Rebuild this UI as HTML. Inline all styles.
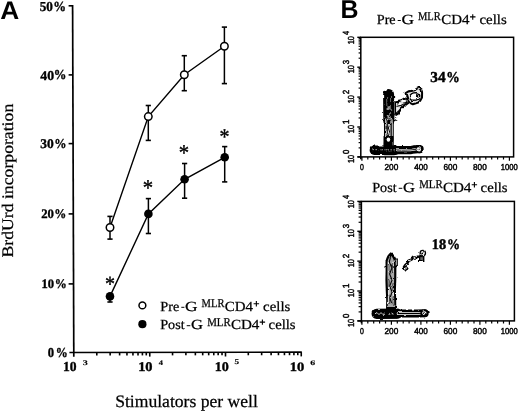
<!DOCTYPE html>
<html><head><meta charset="utf-8">
<style>
html,body{margin:0;padding:0;background:#fff;width:520px;height:412px;overflow:hidden}
svg{display:block;will-change:transform;text-rendering:geometricPrecision}
</style></head><body>
<svg width="520" height="412" viewBox="0 0 520 412">
<text x="0.24" y="19.10" font-family="Liberation Sans" font-weight="bold" font-size="25.51" textLength="18.97" lengthAdjust="spacingAndGlyphs">A</text>
<text x="340.38" y="17.70" font-family="Liberation Sans" font-weight="bold" font-size="25.65" textLength="18.00" lengthAdjust="spacingAndGlyphs">B</text>
<line x1="72.60" y1="5.00" x2="73.80" y2="356.80" stroke="#000" stroke-width="1.7"/>
<line x1="68.60" y1="5.80" x2="72.60" y2="5.80" stroke="#000" stroke-width="1.6"/>
<line x1="68.60" y1="74.90" x2="72.84" y2="74.90" stroke="#000" stroke-width="1.6"/>
<line x1="68.60" y1="143.60" x2="73.07" y2="143.60" stroke="#000" stroke-width="1.6"/>
<line x1="68.60" y1="213.90" x2="73.31" y2="213.90" stroke="#000" stroke-width="1.6"/>
<line x1="68.60" y1="283.90" x2="73.55" y2="283.90" stroke="#000" stroke-width="1.6"/>
<line x1="69.40" y1="352.50" x2="301.80" y2="352.20" stroke="#000" stroke-width="1.7"/>
<line x1="96.80" y1="352.46" x2="96.80" y2="355.46" stroke="#000" stroke-width="1.6"/>
<line x1="110.14" y1="352.45" x2="110.14" y2="355.45" stroke="#000" stroke-width="1.6"/>
<line x1="119.61" y1="352.44" x2="119.61" y2="355.44" stroke="#000" stroke-width="1.6"/>
<line x1="126.95" y1="352.43" x2="126.95" y2="355.43" stroke="#000" stroke-width="1.6"/>
<line x1="132.94" y1="352.42" x2="132.94" y2="355.42" stroke="#000" stroke-width="1.6"/>
<line x1="138.02" y1="352.41" x2="138.02" y2="355.41" stroke="#000" stroke-width="1.6"/>
<line x1="142.41" y1="352.41" x2="142.41" y2="355.41" stroke="#000" stroke-width="1.6"/>
<line x1="146.28" y1="352.40" x2="146.28" y2="355.40" stroke="#000" stroke-width="1.6"/>
<line x1="172.55" y1="352.37" x2="172.55" y2="355.37" stroke="#000" stroke-width="1.6"/>
<line x1="185.89" y1="352.35" x2="185.89" y2="355.35" stroke="#000" stroke-width="1.6"/>
<line x1="195.36" y1="352.34" x2="195.36" y2="355.34" stroke="#000" stroke-width="1.6"/>
<line x1="202.70" y1="352.33" x2="202.70" y2="355.33" stroke="#000" stroke-width="1.6"/>
<line x1="208.69" y1="352.32" x2="208.69" y2="355.32" stroke="#000" stroke-width="1.6"/>
<line x1="213.77" y1="352.31" x2="213.77" y2="355.31" stroke="#000" stroke-width="1.6"/>
<line x1="218.16" y1="352.31" x2="218.16" y2="355.31" stroke="#000" stroke-width="1.6"/>
<line x1="222.03" y1="352.30" x2="222.03" y2="355.30" stroke="#000" stroke-width="1.6"/>
<line x1="248.30" y1="352.27" x2="248.30" y2="355.27" stroke="#000" stroke-width="1.6"/>
<line x1="261.64" y1="352.25" x2="261.64" y2="355.25" stroke="#000" stroke-width="1.6"/>
<line x1="271.11" y1="352.24" x2="271.11" y2="355.24" stroke="#000" stroke-width="1.6"/>
<line x1="278.45" y1="352.23" x2="278.45" y2="355.23" stroke="#000" stroke-width="1.6"/>
<line x1="284.44" y1="352.22" x2="284.44" y2="355.22" stroke="#000" stroke-width="1.6"/>
<line x1="289.52" y1="352.22" x2="289.52" y2="355.22" stroke="#000" stroke-width="1.6"/>
<line x1="293.91" y1="352.21" x2="293.91" y2="355.21" stroke="#000" stroke-width="1.6"/>
<line x1="297.78" y1="352.21" x2="297.78" y2="355.21" stroke="#000" stroke-width="1.6"/>
<line x1="149.75" y1="352.40" x2="149.75" y2="356.60" stroke="#000" stroke-width="1.6"/>
<line x1="225.50" y1="352.30" x2="225.50" y2="356.50" stroke="#000" stroke-width="1.6"/>
<line x1="301.25" y1="352.20" x2="301.25" y2="356.40" stroke="#000" stroke-width="1.6"/>
<g fill="#000" stroke="#000" stroke-width="0.35">
<text x="39.67" y="10.66" font-family="Liberation Serif" font-weight="bold" font-size="13.63" textLength="13.15" lengthAdjust="spacingAndGlyphs">50</text>
<text x="53.26" y="10.59" font-family="Liberation Serif" font-weight="bold" font-size="13.97" textLength="12.75" lengthAdjust="spacingAndGlyphs">%</text>
<text x="40.39" y="79.57" font-family="Liberation Serif" font-weight="bold" font-size="13.48" textLength="13.76" lengthAdjust="spacingAndGlyphs">40</text>
<text x="53.67" y="79.49" font-family="Liberation Serif" font-weight="bold" font-size="13.82" textLength="12.62" lengthAdjust="spacingAndGlyphs">%</text>
<text x="40.36" y="148.37" font-family="Liberation Serif" font-weight="bold" font-size="13.19" textLength="13.48" lengthAdjust="spacingAndGlyphs">30</text>
<text x="54.31" y="148.30" font-family="Liberation Serif" font-weight="bold" font-size="13.53" textLength="12.25" lengthAdjust="spacingAndGlyphs">%</text>
<text x="41.19" y="218.47" font-family="Liberation Serif" font-weight="bold" font-size="12.89" textLength="12.72" lengthAdjust="spacingAndGlyphs">20</text>
<text x="54.24" y="218.40" font-family="Liberation Serif" font-weight="bold" font-size="13.24" textLength="12.00" lengthAdjust="spacingAndGlyphs">%</text>
<text x="41.49" y="288.17" font-family="Liberation Serif" font-weight="bold" font-size="12.89" textLength="12.61" lengthAdjust="spacingAndGlyphs">10</text>
<text x="54.74" y="288.10" font-family="Liberation Serif" font-weight="bold" font-size="13.24" textLength="12.00" lengthAdjust="spacingAndGlyphs">%</text>
<text x="47.80" y="357.47" font-family="Liberation Serif" font-weight="bold" font-size="13.48" textLength="6.31" lengthAdjust="spacingAndGlyphs">0</text>
<text x="55.64" y="357.39" font-family="Liberation Serif" font-weight="bold" font-size="13.82" textLength="12.00" lengthAdjust="spacingAndGlyphs">%</text>
<text x="62.96" y="371.26" font-family="Liberation Serif" font-weight="bold" font-size="13.63" textLength="13.58" lengthAdjust="spacingAndGlyphs">10</text>
<text x="82.80" y="364.73" font-family="Liberation Serif" font-weight="bold" font-size="7.16" textLength="5.06" lengthAdjust="spacingAndGlyphs" stroke-width="0.15">3</text>
<text x="138.15" y="370.77" font-family="Liberation Serif" font-weight="bold" font-size="13.19" textLength="14.43" lengthAdjust="spacingAndGlyphs">10</text>
<text x="158.77" y="364.50" font-family="Liberation Serif" font-weight="bold" font-size="6.97" textLength="4.19" lengthAdjust="spacingAndGlyphs" stroke-width="0.15">4</text>
<text x="214.77" y="370.77" font-family="Liberation Serif" font-weight="bold" font-size="13.19" textLength="14.09" lengthAdjust="spacingAndGlyphs">10</text>
<text x="234.53" y="364.43" font-family="Liberation Serif" font-weight="bold" font-size="7.37" textLength="4.59" lengthAdjust="spacingAndGlyphs" stroke-width="0.15">5</text>
<text x="289.74" y="370.57" font-family="Liberation Serif" font-weight="bold" font-size="12.89" textLength="14.55" lengthAdjust="spacingAndGlyphs">10</text>
<text x="310.15" y="364.73" font-family="Liberation Serif" font-weight="bold" font-size="6.87" textLength="4.94" lengthAdjust="spacingAndGlyphs" stroke-width="0.15">6</text>
</g>
<text x="115.16" y="406.94" font-family="Liberation Serif" font-size="17.47" textLength="142.69" lengthAdjust="spacingAndGlyphs" stroke="#000" stroke-width="0.25">Stimulators per well</text>
<g transform="rotate(-90)" fill="#000"><text x="-257.53" y="13.03" font-family="Liberation Serif" font-size="16.15" textLength="153.75" lengthAdjust="spacingAndGlyphs" stroke="#000" stroke-width="0.25">BrdUrd incorporation</text></g>
<polyline points="110,227.5 148.3,116.6 184.3,74.7 224.4,46.3" fill="none" stroke="#000" stroke-width="1.4"/>
<polyline points="110,296.4 148.4,213.9 184.6,179.3 224.7,157.3" fill="none" stroke="#000" stroke-width="1.4"/>
<line x1="110.00" y1="216.40" x2="110.00" y2="239.10" stroke="#000" stroke-width="1.5"/>
<line x1="107.40" y1="216.40" x2="112.60" y2="216.40" stroke="#000" stroke-width="1.6"/>
<line x1="107.40" y1="239.10" x2="112.60" y2="239.10" stroke="#000" stroke-width="1.6"/>
<line x1="148.30" y1="105.50" x2="148.30" y2="140.40" stroke="#000" stroke-width="1.5"/>
<line x1="145.70" y1="105.50" x2="150.90" y2="105.50" stroke="#000" stroke-width="1.6"/>
<line x1="145.70" y1="140.40" x2="150.90" y2="140.40" stroke="#000" stroke-width="1.6"/>
<line x1="184.30" y1="55.70" x2="184.30" y2="90.70" stroke="#000" stroke-width="1.5"/>
<line x1="181.70" y1="55.70" x2="186.90" y2="55.70" stroke="#000" stroke-width="1.6"/>
<line x1="181.70" y1="90.70" x2="186.90" y2="90.70" stroke="#000" stroke-width="1.6"/>
<line x1="224.40" y1="27.10" x2="224.40" y2="83.60" stroke="#000" stroke-width="1.5"/>
<line x1="221.80" y1="27.10" x2="227.00" y2="27.10" stroke="#000" stroke-width="1.6"/>
<line x1="221.80" y1="83.60" x2="227.00" y2="83.60" stroke="#000" stroke-width="1.6"/>
<line x1="110.00" y1="296.40" x2="110.00" y2="302.00" stroke="#000" stroke-width="1.5"/>
<line x1="107.40" y1="302.00" x2="112.60" y2="302.00" stroke="#000" stroke-width="1.6"/>
<line x1="148.40" y1="198.60" x2="148.40" y2="233.50" stroke="#000" stroke-width="1.5"/>
<line x1="145.80" y1="198.60" x2="151.00" y2="198.60" stroke="#000" stroke-width="1.6"/>
<line x1="145.80" y1="233.50" x2="151.00" y2="233.50" stroke="#000" stroke-width="1.6"/>
<line x1="184.60" y1="163.50" x2="184.60" y2="198.20" stroke="#000" stroke-width="1.5"/>
<line x1="182.00" y1="163.50" x2="187.20" y2="163.50" stroke="#000" stroke-width="1.6"/>
<line x1="182.00" y1="198.20" x2="187.20" y2="198.20" stroke="#000" stroke-width="1.6"/>
<line x1="224.70" y1="146.60" x2="224.70" y2="181.90" stroke="#000" stroke-width="1.5"/>
<line x1="222.10" y1="146.60" x2="227.30" y2="146.60" stroke="#000" stroke-width="1.6"/>
<line x1="222.10" y1="181.90" x2="227.30" y2="181.90" stroke="#000" stroke-width="1.6"/>
<circle cx="110" cy="227.5" r="3.75" fill="#fff" stroke="#000" stroke-width="1.5"/>
<circle cx="148.3" cy="116.6" r="3.75" fill="#fff" stroke="#000" stroke-width="1.5"/>
<circle cx="184.3" cy="74.7" r="3.75" fill="#fff" stroke="#000" stroke-width="1.5"/>
<circle cx="224.4" cy="46.3" r="3.75" fill="#fff" stroke="#000" stroke-width="1.5"/>
<circle cx="110" cy="296.4" r="4.3" fill="#000"/>
<circle cx="148.4" cy="213.9" r="4.3" fill="#000"/>
<circle cx="184.6" cy="179.3" r="4.3" fill="#000"/>
<circle cx="224.7" cy="157.3" r="4.3" fill="#000"/>
<g fill="#000" stroke="#000" stroke-width="0.4">
<text x="105.10" y="290.66" font-family="Liberation Serif" font-size="21.92" textLength="10.00" lengthAdjust="spacingAndGlyphs">*</text>
<text x="142.76" y="194.82" font-family="Liberation Serif" font-size="22.47" textLength="10.37" lengthAdjust="spacingAndGlyphs">*</text>
<text x="178.76" y="159.82" font-family="Liberation Serif" font-size="22.47" textLength="10.37" lengthAdjust="spacingAndGlyphs">*</text>
<text x="219.60" y="143.62" font-family="Liberation Serif" font-size="22.47" textLength="10.00" lengthAdjust="spacingAndGlyphs">*</text>
</g>
<circle cx="142.4" cy="305.4" r="3.4" fill="#fff" stroke="#000" stroke-width="1.5"/>
<circle cx="142.4" cy="324.2" r="4.1" fill="#000"/>
<g fill="#000">
<text x="160.37" y="311.00" font-family="Liberation Serif" font-size="13.80" textLength="18.89" lengthAdjust="spacingAndGlyphs" stroke="#000" stroke-width="0.25">Pre</text>
<path d="M181.30,307.30H184.40" stroke="#000" stroke-width="1.0"/>
<text x="185.10" y="310.86" font-family="Liberation Serif" font-size="13.88" textLength="12.55" lengthAdjust="spacingAndGlyphs" stroke="#000" stroke-width="0.25">G</text>
<text x="201.58" y="307.20" font-family="Liberation Serif" font-size="11.91" textLength="22.84" lengthAdjust="spacingAndGlyphs" stroke="#000" stroke-width="0.25">MLR</text>
<text x="224.80" y="310.86" font-family="Liberation Serif" font-size="13.88" textLength="28.21" lengthAdjust="spacingAndGlyphs" stroke="#000" stroke-width="0.25">CD4</text>
<path d="M253.60,303.70H259.10M256.35,300.95V306.45" stroke="#000" stroke-width="1.1"/>
<text x="263.11" y="311.00" font-family="Liberation Serif" font-size="13.80" textLength="27.17" lengthAdjust="spacingAndGlyphs" stroke="#000" stroke-width="0.25">cells</text>
<text x="160.28" y="329.40" font-family="Liberation Serif" font-size="13.80" textLength="24.34" lengthAdjust="spacingAndGlyphs" stroke="#000" stroke-width="0.25">Post</text>
<path d="M186.70,325.70H190.30" stroke="#000" stroke-width="1.0"/>
<text x="190.94" y="329.26" font-family="Liberation Serif" font-size="13.88" textLength="12.00" lengthAdjust="spacingAndGlyphs" stroke="#000" stroke-width="0.25">G</text>
<text x="207.17" y="325.60" font-family="Liberation Serif" font-size="11.91" textLength="23.55" lengthAdjust="spacingAndGlyphs" stroke="#000" stroke-width="0.25">MLR</text>
<text x="230.90" y="329.26" font-family="Liberation Serif" font-size="13.88" textLength="28.52" lengthAdjust="spacingAndGlyphs" stroke="#000" stroke-width="0.25">CD4</text>
<path d="M259.70,322.10H265.10M262.40,319.40V324.80" stroke="#000" stroke-width="1.1"/>
<text x="268.61" y="329.40" font-family="Liberation Serif" font-size="13.80" textLength="26.97" lengthAdjust="spacingAndGlyphs" stroke="#000" stroke-width="0.25">cells</text>
<text x="376.77" y="24.20" font-family="Liberation Serif" font-size="13.80" textLength="18.89" lengthAdjust="spacingAndGlyphs" stroke="#000" stroke-width="0.25">Pre</text>
<path d="M397.70,20.50H400.80" stroke="#000" stroke-width="1.0"/>
<text x="401.50" y="24.06" font-family="Liberation Serif" font-size="13.88" textLength="12.55" lengthAdjust="spacingAndGlyphs" stroke="#000" stroke-width="0.25">G</text>
<text x="417.98" y="20.40" font-family="Liberation Serif" font-size="11.91" textLength="22.84" lengthAdjust="spacingAndGlyphs" stroke="#000" stroke-width="0.25">MLR</text>
<text x="441.20" y="24.06" font-family="Liberation Serif" font-size="13.88" textLength="28.21" lengthAdjust="spacingAndGlyphs" stroke="#000" stroke-width="0.25">CD4</text>
<path d="M470.00,16.90H475.50M472.75,14.15V19.65" stroke="#000" stroke-width="1.1"/>
<text x="479.51" y="24.20" font-family="Liberation Serif" font-size="13.80" textLength="27.17" lengthAdjust="spacingAndGlyphs" stroke="#000" stroke-width="0.25">cells</text>
<text x="372.28" y="192.00" font-family="Liberation Serif" font-size="13.80" textLength="24.34" lengthAdjust="spacingAndGlyphs" stroke="#000" stroke-width="0.25">Post</text>
<path d="M398.70,188.30H402.30" stroke="#000" stroke-width="1.0"/>
<text x="402.94" y="191.86" font-family="Liberation Serif" font-size="13.88" textLength="12.00" lengthAdjust="spacingAndGlyphs" stroke="#000" stroke-width="0.25">G</text>
<text x="419.17" y="188.20" font-family="Liberation Serif" font-size="11.91" textLength="23.55" lengthAdjust="spacingAndGlyphs" stroke="#000" stroke-width="0.25">MLR</text>
<text x="442.90" y="191.86" font-family="Liberation Serif" font-size="13.88" textLength="28.52" lengthAdjust="spacingAndGlyphs" stroke="#000" stroke-width="0.25">CD4</text>
<path d="M471.70,184.70H477.10M474.40,182.00V187.40" stroke="#000" stroke-width="1.1"/>
<text x="480.61" y="192.00" font-family="Liberation Serif" font-size="13.80" textLength="26.97" lengthAdjust="spacingAndGlyphs" stroke="#000" stroke-width="0.25">cells</text>
</g>
<rect x="360.8" y="37.3" width="152.8" height="119.60000000000001" fill="none" stroke="#000" stroke-width="1.5"/>
<line x1="357.30" y1="156.90" x2="360.80" y2="156.90" stroke="#000" stroke-width="1.4"/>
<line x1="358.60" y1="147.90" x2="360.80" y2="147.90" stroke="#000" stroke-width="1.2"/>
<line x1="358.60" y1="142.63" x2="360.80" y2="142.63" stroke="#000" stroke-width="1.2"/>
<line x1="358.60" y1="138.90" x2="360.80" y2="138.90" stroke="#000" stroke-width="1.2"/>
<line x1="358.60" y1="136.00" x2="360.80" y2="136.00" stroke="#000" stroke-width="1.2"/>
<line x1="358.60" y1="133.63" x2="360.80" y2="133.63" stroke="#000" stroke-width="1.2"/>
<line x1="358.60" y1="131.63" x2="360.80" y2="131.63" stroke="#000" stroke-width="1.2"/>
<line x1="358.60" y1="129.90" x2="360.80" y2="129.90" stroke="#000" stroke-width="1.2"/>
<line x1="358.60" y1="128.37" x2="360.80" y2="128.37" stroke="#000" stroke-width="1.2"/>
<line x1="357.30" y1="127.00" x2="360.80" y2="127.00" stroke="#000" stroke-width="1.4"/>
<line x1="358.60" y1="118.00" x2="360.80" y2="118.00" stroke="#000" stroke-width="1.2"/>
<line x1="358.60" y1="112.73" x2="360.80" y2="112.73" stroke="#000" stroke-width="1.2"/>
<line x1="358.60" y1="109.00" x2="360.80" y2="109.00" stroke="#000" stroke-width="1.2"/>
<line x1="358.60" y1="106.10" x2="360.80" y2="106.10" stroke="#000" stroke-width="1.2"/>
<line x1="358.60" y1="103.73" x2="360.80" y2="103.73" stroke="#000" stroke-width="1.2"/>
<line x1="358.60" y1="101.73" x2="360.80" y2="101.73" stroke="#000" stroke-width="1.2"/>
<line x1="358.60" y1="100.00" x2="360.80" y2="100.00" stroke="#000" stroke-width="1.2"/>
<line x1="358.60" y1="98.47" x2="360.80" y2="98.47" stroke="#000" stroke-width="1.2"/>
<line x1="357.30" y1="97.10" x2="360.80" y2="97.10" stroke="#000" stroke-width="1.4"/>
<line x1="358.60" y1="88.10" x2="360.80" y2="88.10" stroke="#000" stroke-width="1.2"/>
<line x1="358.60" y1="82.83" x2="360.80" y2="82.83" stroke="#000" stroke-width="1.2"/>
<line x1="358.60" y1="79.10" x2="360.80" y2="79.10" stroke="#000" stroke-width="1.2"/>
<line x1="358.60" y1="76.20" x2="360.80" y2="76.20" stroke="#000" stroke-width="1.2"/>
<line x1="358.60" y1="73.83" x2="360.80" y2="73.83" stroke="#000" stroke-width="1.2"/>
<line x1="358.60" y1="71.83" x2="360.80" y2="71.83" stroke="#000" stroke-width="1.2"/>
<line x1="358.60" y1="70.10" x2="360.80" y2="70.10" stroke="#000" stroke-width="1.2"/>
<line x1="358.60" y1="68.57" x2="360.80" y2="68.57" stroke="#000" stroke-width="1.2"/>
<line x1="357.30" y1="67.20" x2="360.80" y2="67.20" stroke="#000" stroke-width="1.4"/>
<line x1="358.60" y1="58.20" x2="360.80" y2="58.20" stroke="#000" stroke-width="1.2"/>
<line x1="358.60" y1="52.93" x2="360.80" y2="52.93" stroke="#000" stroke-width="1.2"/>
<line x1="358.60" y1="49.20" x2="360.80" y2="49.20" stroke="#000" stroke-width="1.2"/>
<line x1="358.60" y1="46.30" x2="360.80" y2="46.30" stroke="#000" stroke-width="1.2"/>
<line x1="358.60" y1="43.93" x2="360.80" y2="43.93" stroke="#000" stroke-width="1.2"/>
<line x1="358.60" y1="41.93" x2="360.80" y2="41.93" stroke="#000" stroke-width="1.2"/>
<line x1="358.60" y1="40.20" x2="360.80" y2="40.20" stroke="#000" stroke-width="1.2"/>
<line x1="358.60" y1="38.67" x2="360.80" y2="38.67" stroke="#000" stroke-width="1.2"/>
<line x1="357.30" y1="37.30" x2="360.80" y2="37.30" stroke="#000" stroke-width="1.4"/>
<line x1="357.50" y1="156.90" x2="360.80" y2="156.90" stroke="#000" stroke-width="1.5"/>
<line x1="361.90" y1="156.90" x2="361.90" y2="160.70" stroke="#000" stroke-width="1.2"/>
<line x1="367.80" y1="156.90" x2="367.80" y2="159.50" stroke="#000" stroke-width="1.2"/>
<line x1="373.70" y1="156.90" x2="373.70" y2="159.50" stroke="#000" stroke-width="1.2"/>
<line x1="379.60" y1="156.90" x2="379.60" y2="159.50" stroke="#000" stroke-width="1.2"/>
<line x1="385.50" y1="156.90" x2="385.50" y2="159.50" stroke="#000" stroke-width="1.2"/>
<line x1="391.40" y1="156.90" x2="391.40" y2="160.70" stroke="#000" stroke-width="1.2"/>
<line x1="397.30" y1="156.90" x2="397.30" y2="159.50" stroke="#000" stroke-width="1.2"/>
<line x1="403.20" y1="156.90" x2="403.20" y2="159.50" stroke="#000" stroke-width="1.2"/>
<line x1="409.10" y1="156.90" x2="409.10" y2="159.50" stroke="#000" stroke-width="1.2"/>
<line x1="415.00" y1="156.90" x2="415.00" y2="159.50" stroke="#000" stroke-width="1.2"/>
<line x1="420.90" y1="156.90" x2="420.90" y2="160.70" stroke="#000" stroke-width="1.2"/>
<line x1="426.80" y1="156.90" x2="426.80" y2="159.50" stroke="#000" stroke-width="1.2"/>
<line x1="432.70" y1="156.90" x2="432.70" y2="159.50" stroke="#000" stroke-width="1.2"/>
<line x1="438.60" y1="156.90" x2="438.60" y2="159.50" stroke="#000" stroke-width="1.2"/>
<line x1="444.50" y1="156.90" x2="444.50" y2="159.50" stroke="#000" stroke-width="1.2"/>
<line x1="450.40" y1="156.90" x2="450.40" y2="160.70" stroke="#000" stroke-width="1.2"/>
<line x1="456.30" y1="156.90" x2="456.30" y2="159.50" stroke="#000" stroke-width="1.2"/>
<line x1="462.20" y1="156.90" x2="462.20" y2="159.50" stroke="#000" stroke-width="1.2"/>
<line x1="468.10" y1="156.90" x2="468.10" y2="159.50" stroke="#000" stroke-width="1.2"/>
<line x1="474.00" y1="156.90" x2="474.00" y2="159.50" stroke="#000" stroke-width="1.2"/>
<line x1="479.90" y1="156.90" x2="479.90" y2="160.70" stroke="#000" stroke-width="1.2"/>
<line x1="485.80" y1="156.90" x2="485.80" y2="159.50" stroke="#000" stroke-width="1.2"/>
<line x1="491.70" y1="156.90" x2="491.70" y2="159.50" stroke="#000" stroke-width="1.2"/>
<line x1="497.60" y1="156.90" x2="497.60" y2="159.50" stroke="#000" stroke-width="1.2"/>
<line x1="503.50" y1="156.90" x2="503.50" y2="159.50" stroke="#000" stroke-width="1.2"/>
<line x1="509.40" y1="156.90" x2="509.40" y2="160.70" stroke="#000" stroke-width="1.2"/>
<line x1="360.80" y1="156.90" x2="360.80" y2="159.30" stroke="#000" stroke-width="1.5"/>
<text x="359.97" y="169.51" font-family="Liberation Sans" font-size="8.59" textLength="3.86" lengthAdjust="spacingAndGlyphs" fill="#000" stroke="#000" stroke-width="0.45">0</text>
<text x="384.49" y="169.51" font-family="Liberation Sans" font-size="8.59" textLength="13.77" lengthAdjust="spacingAndGlyphs" fill="#000" stroke="#000" stroke-width="0.45">200</text>
<text x="414.20" y="169.51" font-family="Liberation Sans" font-size="8.59" textLength="13.56" lengthAdjust="spacingAndGlyphs" fill="#000" stroke="#000" stroke-width="0.45">400</text>
<text x="443.49" y="169.51" font-family="Liberation Sans" font-size="8.59" textLength="13.77" lengthAdjust="spacingAndGlyphs" fill="#000" stroke="#000" stroke-width="0.45">600</text>
<text x="473.03" y="169.51" font-family="Liberation Sans" font-size="8.59" textLength="13.73" lengthAdjust="spacingAndGlyphs" fill="#000" stroke="#000" stroke-width="0.45">800</text>
<text x="500.72" y="169.51" font-family="Liberation Sans" font-size="8.59" textLength="17.08" lengthAdjust="spacingAndGlyphs" fill="#000" stroke="#000" stroke-width="0.45">1000</text>
<g transform="rotate(-90)" fill="#000" stroke="#000" stroke-width="0.45"><text x="-163.05" y="353.81" font-family="Liberation Sans" font-size="8.73" textLength="8.16" lengthAdjust="spacingAndGlyphs">10</text><text x="-153.91" y="349.21" font-family="Liberation Sans" font-size="8.73" textLength="4.33" lengthAdjust="spacingAndGlyphs">0</text></g>
<g transform="rotate(-90)" fill="#000" stroke="#000" stroke-width="0.45"><text x="-133.15" y="353.81" font-family="Liberation Sans" font-size="8.73" textLength="8.16" lengthAdjust="spacingAndGlyphs">10</text><text x="-124.35" y="349.30" font-family="Liberation Sans" font-size="8.99" textLength="4.79" lengthAdjust="spacingAndGlyphs">1</text></g>
<g transform="rotate(-90)" fill="#000" stroke="#000" stroke-width="0.45"><text x="-103.25" y="353.81" font-family="Liberation Sans" font-size="8.73" textLength="8.16" lengthAdjust="spacingAndGlyphs">10</text><text x="-94.21" y="349.30" font-family="Liberation Sans" font-size="8.86" textLength="4.52" lengthAdjust="spacingAndGlyphs">2</text></g>
<g transform="rotate(-90)" fill="#000" stroke="#000" stroke-width="0.45"><text x="-73.35" y="353.81" font-family="Liberation Sans" font-size="8.73" textLength="8.16" lengthAdjust="spacingAndGlyphs">10</text><text x="-64.21" y="349.21" font-family="Liberation Sans" font-size="8.73" textLength="4.38" lengthAdjust="spacingAndGlyphs">3</text></g>
<g transform="rotate(-90)" fill="#000" stroke="#000" stroke-width="0.45"><text x="-44.25" y="353.81" font-family="Liberation Sans" font-size="8.73" textLength="8.16" lengthAdjust="spacingAndGlyphs">10</text><text x="-34.98" y="349.30" font-family="Liberation Sans" font-size="8.99" textLength="4.12" lengthAdjust="spacingAndGlyphs">4</text></g>
<rect x="361.4" y="201.4" width="153.0" height="119.49999999999997" fill="none" stroke="#000" stroke-width="1.5"/>
<line x1="357.30" y1="320.90" x2="361.40" y2="320.90" stroke="#000" stroke-width="1.4"/>
<line x1="358.60" y1="311.91" x2="361.40" y2="311.91" stroke="#000" stroke-width="1.2"/>
<line x1="358.60" y1="306.65" x2="361.40" y2="306.65" stroke="#000" stroke-width="1.2"/>
<line x1="358.60" y1="302.91" x2="361.40" y2="302.91" stroke="#000" stroke-width="1.2"/>
<line x1="358.60" y1="300.02" x2="361.40" y2="300.02" stroke="#000" stroke-width="1.2"/>
<line x1="358.60" y1="297.65" x2="361.40" y2="297.65" stroke="#000" stroke-width="1.2"/>
<line x1="358.60" y1="295.65" x2="361.40" y2="295.65" stroke="#000" stroke-width="1.2"/>
<line x1="358.60" y1="293.92" x2="361.40" y2="293.92" stroke="#000" stroke-width="1.2"/>
<line x1="358.60" y1="292.39" x2="361.40" y2="292.39" stroke="#000" stroke-width="1.2"/>
<line x1="357.30" y1="291.02" x2="361.40" y2="291.02" stroke="#000" stroke-width="1.4"/>
<line x1="358.60" y1="282.03" x2="361.40" y2="282.03" stroke="#000" stroke-width="1.2"/>
<line x1="358.60" y1="276.77" x2="361.40" y2="276.77" stroke="#000" stroke-width="1.2"/>
<line x1="358.60" y1="273.04" x2="361.40" y2="273.04" stroke="#000" stroke-width="1.2"/>
<line x1="358.60" y1="270.14" x2="361.40" y2="270.14" stroke="#000" stroke-width="1.2"/>
<line x1="358.60" y1="267.78" x2="361.40" y2="267.78" stroke="#000" stroke-width="1.2"/>
<line x1="358.60" y1="265.78" x2="361.40" y2="265.78" stroke="#000" stroke-width="1.2"/>
<line x1="358.60" y1="264.05" x2="361.40" y2="264.05" stroke="#000" stroke-width="1.2"/>
<line x1="358.60" y1="262.52" x2="361.40" y2="262.52" stroke="#000" stroke-width="1.2"/>
<line x1="357.30" y1="261.15" x2="361.40" y2="261.15" stroke="#000" stroke-width="1.4"/>
<line x1="358.60" y1="252.16" x2="361.40" y2="252.16" stroke="#000" stroke-width="1.2"/>
<line x1="358.60" y1="246.90" x2="361.40" y2="246.90" stroke="#000" stroke-width="1.2"/>
<line x1="358.60" y1="243.16" x2="361.40" y2="243.16" stroke="#000" stroke-width="1.2"/>
<line x1="358.60" y1="240.27" x2="361.40" y2="240.27" stroke="#000" stroke-width="1.2"/>
<line x1="358.60" y1="237.90" x2="361.40" y2="237.90" stroke="#000" stroke-width="1.2"/>
<line x1="358.60" y1="235.90" x2="361.40" y2="235.90" stroke="#000" stroke-width="1.2"/>
<line x1="358.60" y1="234.17" x2="361.40" y2="234.17" stroke="#000" stroke-width="1.2"/>
<line x1="358.60" y1="232.64" x2="361.40" y2="232.64" stroke="#000" stroke-width="1.2"/>
<line x1="357.30" y1="231.28" x2="361.40" y2="231.28" stroke="#000" stroke-width="1.4"/>
<line x1="358.60" y1="222.28" x2="361.40" y2="222.28" stroke="#000" stroke-width="1.2"/>
<line x1="358.60" y1="217.02" x2="361.40" y2="217.02" stroke="#000" stroke-width="1.2"/>
<line x1="358.60" y1="213.29" x2="361.40" y2="213.29" stroke="#000" stroke-width="1.2"/>
<line x1="358.60" y1="210.39" x2="361.40" y2="210.39" stroke="#000" stroke-width="1.2"/>
<line x1="358.60" y1="208.03" x2="361.40" y2="208.03" stroke="#000" stroke-width="1.2"/>
<line x1="358.60" y1="206.03" x2="361.40" y2="206.03" stroke="#000" stroke-width="1.2"/>
<line x1="358.60" y1="204.30" x2="361.40" y2="204.30" stroke="#000" stroke-width="1.2"/>
<line x1="358.60" y1="202.77" x2="361.40" y2="202.77" stroke="#000" stroke-width="1.2"/>
<line x1="357.30" y1="201.40" x2="361.40" y2="201.40" stroke="#000" stroke-width="1.4"/>
<line x1="357.50" y1="320.90" x2="361.40" y2="320.90" stroke="#000" stroke-width="1.5"/>
<line x1="361.90" y1="320.90" x2="361.90" y2="324.70" stroke="#000" stroke-width="1.2"/>
<line x1="367.80" y1="320.90" x2="367.80" y2="323.50" stroke="#000" stroke-width="1.2"/>
<line x1="373.70" y1="320.90" x2="373.70" y2="323.50" stroke="#000" stroke-width="1.2"/>
<line x1="379.60" y1="320.90" x2="379.60" y2="323.50" stroke="#000" stroke-width="1.2"/>
<line x1="385.50" y1="320.90" x2="385.50" y2="323.50" stroke="#000" stroke-width="1.2"/>
<line x1="391.40" y1="320.90" x2="391.40" y2="324.70" stroke="#000" stroke-width="1.2"/>
<line x1="397.30" y1="320.90" x2="397.30" y2="323.50" stroke="#000" stroke-width="1.2"/>
<line x1="403.20" y1="320.90" x2="403.20" y2="323.50" stroke="#000" stroke-width="1.2"/>
<line x1="409.10" y1="320.90" x2="409.10" y2="323.50" stroke="#000" stroke-width="1.2"/>
<line x1="415.00" y1="320.90" x2="415.00" y2="323.50" stroke="#000" stroke-width="1.2"/>
<line x1="420.90" y1="320.90" x2="420.90" y2="324.70" stroke="#000" stroke-width="1.2"/>
<line x1="426.80" y1="320.90" x2="426.80" y2="323.50" stroke="#000" stroke-width="1.2"/>
<line x1="432.70" y1="320.90" x2="432.70" y2="323.50" stroke="#000" stroke-width="1.2"/>
<line x1="438.60" y1="320.90" x2="438.60" y2="323.50" stroke="#000" stroke-width="1.2"/>
<line x1="444.50" y1="320.90" x2="444.50" y2="323.50" stroke="#000" stroke-width="1.2"/>
<line x1="450.40" y1="320.90" x2="450.40" y2="324.70" stroke="#000" stroke-width="1.2"/>
<line x1="456.30" y1="320.90" x2="456.30" y2="323.50" stroke="#000" stroke-width="1.2"/>
<line x1="462.20" y1="320.90" x2="462.20" y2="323.50" stroke="#000" stroke-width="1.2"/>
<line x1="468.10" y1="320.90" x2="468.10" y2="323.50" stroke="#000" stroke-width="1.2"/>
<line x1="474.00" y1="320.90" x2="474.00" y2="323.50" stroke="#000" stroke-width="1.2"/>
<line x1="479.90" y1="320.90" x2="479.90" y2="324.70" stroke="#000" stroke-width="1.2"/>
<line x1="485.80" y1="320.90" x2="485.80" y2="323.50" stroke="#000" stroke-width="1.2"/>
<line x1="491.70" y1="320.90" x2="491.70" y2="323.50" stroke="#000" stroke-width="1.2"/>
<line x1="497.60" y1="320.90" x2="497.60" y2="323.50" stroke="#000" stroke-width="1.2"/>
<line x1="503.50" y1="320.90" x2="503.50" y2="323.50" stroke="#000" stroke-width="1.2"/>
<line x1="509.40" y1="320.90" x2="509.40" y2="324.70" stroke="#000" stroke-width="1.2"/>
<line x1="361.40" y1="320.90" x2="361.40" y2="323.30" stroke="#000" stroke-width="1.5"/>
<text x="359.97" y="333.51" font-family="Liberation Sans" font-size="8.59" textLength="3.86" lengthAdjust="spacingAndGlyphs" fill="#000" stroke="#000" stroke-width="0.45">0</text>
<text x="384.49" y="333.51" font-family="Liberation Sans" font-size="8.59" textLength="13.77" lengthAdjust="spacingAndGlyphs" fill="#000" stroke="#000" stroke-width="0.45">200</text>
<text x="414.20" y="333.51" font-family="Liberation Sans" font-size="8.59" textLength="13.56" lengthAdjust="spacingAndGlyphs" fill="#000" stroke="#000" stroke-width="0.45">400</text>
<text x="443.49" y="333.51" font-family="Liberation Sans" font-size="8.59" textLength="13.77" lengthAdjust="spacingAndGlyphs" fill="#000" stroke="#000" stroke-width="0.45">600</text>
<text x="473.03" y="333.51" font-family="Liberation Sans" font-size="8.59" textLength="13.73" lengthAdjust="spacingAndGlyphs" fill="#000" stroke="#000" stroke-width="0.45">800</text>
<text x="500.72" y="333.51" font-family="Liberation Sans" font-size="8.59" textLength="17.08" lengthAdjust="spacingAndGlyphs" fill="#000" stroke="#000" stroke-width="0.45">1000</text>
<g transform="rotate(-90)" fill="#000" stroke="#000" stroke-width="0.45"><text x="-327.05" y="353.81" font-family="Liberation Sans" font-size="8.73" textLength="8.16" lengthAdjust="spacingAndGlyphs">10</text><text x="-317.91" y="349.21" font-family="Liberation Sans" font-size="8.73" textLength="4.33" lengthAdjust="spacingAndGlyphs">0</text></g>
<g transform="rotate(-90)" fill="#000" stroke="#000" stroke-width="0.45"><text x="-297.18" y="353.81" font-family="Liberation Sans" font-size="8.73" textLength="8.16" lengthAdjust="spacingAndGlyphs">10</text><text x="-288.37" y="349.30" font-family="Liberation Sans" font-size="8.99" textLength="4.79" lengthAdjust="spacingAndGlyphs">1</text></g>
<g transform="rotate(-90)" fill="#000" stroke="#000" stroke-width="0.45"><text x="-267.30" y="353.81" font-family="Liberation Sans" font-size="8.73" textLength="8.16" lengthAdjust="spacingAndGlyphs">10</text><text x="-258.26" y="349.30" font-family="Liberation Sans" font-size="8.86" textLength="4.52" lengthAdjust="spacingAndGlyphs">2</text></g>
<g transform="rotate(-90)" fill="#000" stroke="#000" stroke-width="0.45"><text x="-237.43" y="353.81" font-family="Liberation Sans" font-size="8.73" textLength="8.16" lengthAdjust="spacingAndGlyphs">10</text><text x="-228.29" y="349.21" font-family="Liberation Sans" font-size="8.73" textLength="4.38" lengthAdjust="spacingAndGlyphs">3</text></g>
<g transform="rotate(-90)" fill="#000" stroke="#000" stroke-width="0.45"><text x="-208.35" y="353.81" font-family="Liberation Sans" font-size="8.73" textLength="8.16" lengthAdjust="spacingAndGlyphs">10</text><text x="-199.09" y="349.30" font-family="Liberation Sans" font-size="8.99" textLength="4.12" lengthAdjust="spacingAndGlyphs">4</text></g>
<g fill="#000" stroke="#000" stroke-width="0.45">
<text x="430.29" y="82.15" font-family="Liberation Serif" font-weight="bold" font-size="15.07" textLength="15.32" lengthAdjust="spacingAndGlyphs">34</text>
<text x="446.18" y="82.07" font-family="Liberation Serif" font-weight="bold" font-size="15.15" textLength="13.50" lengthAdjust="spacingAndGlyphs">%</text>
<text x="431.75" y="248.65" font-family="Liberation Serif" font-weight="bold" font-size="14.67" textLength="14.35" lengthAdjust="spacingAndGlyphs">18</text>
<text x="446.94" y="248.58" font-family="Liberation Serif" font-weight="bold" font-size="14.85" textLength="13.00" lengthAdjust="spacingAndGlyphs">%</text>
</g>
<defs>
<filter id="wob" x="-20%" y="-20%" width="140%" height="140%" color-interpolation-filters="sRGB">
 <feTurbulence type="fractalNoise" baseFrequency="0.18" numOctaves="2" seed="7" result="t"/>
 <feDisplacementMap in="SourceGraphic" in2="t" scale="3.2" xChannelSelector="R" yChannelSelector="G"/>
</filter>
<filter id="wob2" x="-20%" y="-20%" width="140%" height="140%" color-interpolation-filters="sRGB">
 <feTurbulence type="fractalNoise" baseFrequency="0.22" numOctaves="2" seed="3" result="t"/>
 <feDisplacementMap in="SourceGraphic" in2="t" scale="2.6" xChannelSelector="R" yChannelSelector="G"/>
</filter>
</defs>
<g filter="url(#wob)">
<path d="M388.6,94.5 L388.8,121" fill="none" stroke="#000" stroke-width="11.0" stroke-linecap="round" stroke-linejoin="round"/>
<path d="M388.8,121 L388.9,130 L388.8,140" fill="none" stroke="#000" stroke-width="9.8" stroke-linecap="round" stroke-linejoin="round"/>
<path d="M388.8,121 L388.9,130 L388.8,140" fill="none" stroke="#fff" stroke-width="7.6" stroke-linecap="round" stroke-linejoin="round"/>
<path d="M388.8,121 L388.9,130 L388.8,140" fill="none" stroke="#000" stroke-width="6.2" stroke-linecap="round" stroke-linejoin="round"/>
<path d="M388.8,121 L388.9,130 L388.8,140" fill="none" stroke="#fff" stroke-width="4.6" stroke-linecap="round" stroke-linejoin="round"/>
<path d="M388.8,121 L388.9,130 L388.8,140" fill="none" stroke="#000" stroke-width="3.4" stroke-linecap="round" stroke-linejoin="round"/>
<path d="M388.2,124 L389.6,128 L388.4,132 L389.6,136 L388.6,140" stroke="#fff" stroke-width="0.9" fill="none"/>
<path d="M386.6,97 L387,110 M390.5,96 L390.6,111 M388.4,112 L388.8,119 M390.6,113 L390.2,120" stroke="#777" stroke-width="0.9"/>
<ellipse cx="388.4" cy="108" rx="1.6" ry="2" fill="#999"/>
<ellipse cx="387.6" cy="116.5" rx="1.1" ry="1.6" fill="#bbb"/>
<path d="M383.6,136 L393.4,136 L393.8,146 L383.4,146 Z" fill="#000"/>
<ellipse cx="388.4" cy="139.6" rx="1.8" ry="2.2" fill="#fff"/>
<path d="M393.5,114 L397.4,114.6 M393.5,117 L397,118.8 M393.8,120 L396.2,121.5" stroke="#000" stroke-width="1.1"/>
<path d="M374.3,150.2 L395,150.3" fill="none" stroke="#000" stroke-width="9.4" stroke-linecap="round" stroke-linejoin="round"/>
<path d="M384.5,152.6 L394,152.6" fill="none" stroke="#000" stroke-width="5.4" stroke-linecap="round" stroke-linejoin="round"/>
<path d="M397,150.1 C403,150.1 408,150.2 412,149.8 C415,149.2 417.5,149 419.6,149.2" fill="none" stroke="#000" stroke-width="8.2" stroke-linecap="round" stroke-linejoin="round"/>
<path d="M397,150.1 C403,150.1 408,150.2 412,149.8 C415,149.2 417.5,149 419.6,149.2" fill="none" stroke="#fff" stroke-width="2.2" stroke-linecap="round" stroke-linejoin="round"/>
<path d="M397,150.1 C403,150.1 408,150.2 412,149.8 C415,149.2 417.5,149 419.6,149.2" fill="none" stroke="#000" stroke-width="0.9" stroke-linecap="round" stroke-linejoin="round"/>
<ellipse cx="419.3" cy="149.3" rx="3.6" ry="3.9" fill="#000"/>
<ellipse cx="418.7" cy="149.4" rx="2.3" ry="2.2" fill="#fff"/>
<ellipse cx="418.4" cy="149.5" rx="1.1" ry="1.1" fill="#777"/>
<path d="M372.5,149.6 L395,149.9" stroke="#fff" stroke-width="0.9" stroke-dasharray="1.4 1.6" fill="none" opacity="0.8"/>
<path d="M394.4,100.6 L401,99.3 L404,97.6 L408.4,96.4 L408.6,103.2 L405.2,105.8 L402.2,109.8 L399.2,113 L394.6,116.6 Z" fill="#000"/>
<path d="M396,103 L400.6,101.6 L403.8,100.2 L406.6,99.4 L406.4,102.2 L403.8,104.4 L401,107.6 L398.4,110.6 L396,112.6 Z" fill="#d8d8d8"/>
<ellipse cx="400.2" cy="104.2" rx="1.6" ry="1.1" fill="#fff"/>
<ellipse cx="404.2" cy="102" rx="1.3" ry="0.9" fill="#fff"/>
<ellipse cx="397.8" cy="108.6" rx="1.1" ry="1.3" fill="#eee"/>
<path d="M396.4,106.4 L401.6,105.4 L404.6,103.4 M398.6,111 L401.4,108.4 M397,104.4 L399,102.6" stroke="#000" stroke-width="0.9"/>
<path d="M405.6,93.2 L408.5,91.4 L413.7,90.6 L416.8,88.8 L418.8,87.4 L421.6,89.4 L422.1,93 L422.0,97.5 L420.2,100.8 L418.2,102.6 L412.9,104.3 L409.4,102.6 L407.6,99.8 Z" fill="#e8e8e8" stroke="#000" stroke-width="2.0" stroke-linejoin="round"/>
<path d="M409.6,97 C410,94 413,92.6 416.2,92.6 C419.2,92.8 420.2,95 419.6,97.4 C418.9,99.7 416.3,100.4 413.2,100.3 C411,100.2 409.4,99.2 409.6,97 Z" fill="#fff" stroke="#000" stroke-width="1.4"/>
<path d="M416.2,93.4 C418.4,93.4 418.8,95.5 418.2,96.8 C417.6,98 416.4,98 416,96.8 Z" fill="#000"/>
</g>
<g filter="url(#wob2)">
<path d="M386,309.5 L386.2,300 L385.7,290 L385.4,280 L385.6,270 L385.5,262 C385.8,258 388.4,253.6 390.7,252.3 C393,253.4 395.4,256.4 396,258.4 L398,258.6 L398,266.6 L396.4,267.2 L396.3,280 L395.9,290 L396.2,300 L396.3,309.5 Z" fill="#000"/>
<path d="M387.7,307 L387.9,290 L387.4,275 L387.5,262 C388,259 389.6,256.4 390.8,255.8 C392,256.4 393.8,259 394,262 L394.2,275 L393.9,290 L394.4,307 Z" fill="#a8a8a8"/>
<path d="M388.6,262 L388.8,272 M393,262 L393.1,272 M388.8,288 L388.8,304 M393.2,288 L393.3,304" stroke="#fff" stroke-width="0.9"/>
<path d="M390.7,256.5 L389.3,262 L391.9,268 L389.6,274 L392.1,280 L389.7,286 L392.1,292 L389.9,298 L391.9,304" stroke="#000" stroke-width="1.1" fill="none"/>
<path d="M388.2,264 C390,266 388,270 389.6,272 M392.8,263 C391.6,266 393.6,270 392.2,274 M388.4,279 C390.4,281 388.2,285 389.4,288 M393.2,283 C391.8,286 393.6,290 392.6,293 M388.6,294 C390.6,297 388.4,300 389.8,304 M393.4,297 C392.2,300 393.8,303 392.8,306" stroke="#222" stroke-width="0.8" fill="none"/>
<rect x="395.6" y="259.5" width="1.7" height="6.2" fill="#999"/>
<path d="M376.6,313.8 L397,313.6" fill="none" stroke="#000" stroke-width="10.2" stroke-linecap="round" stroke-linejoin="round"/>
<path d="M385,316 L396,316" fill="none" stroke="#000" stroke-width="5.2" stroke-linecap="round" stroke-linejoin="round"/>
<path d="M398,313.6 C405,313.4 412,313.6 418,313.4 C420.5,313.2 422.5,313.2 424.2,313.2" fill="none" stroke="#000" stroke-width="8.0" stroke-linecap="round" stroke-linejoin="round"/>
<path d="M398,313.6 C405,313.4 412,313.6 418,313.4 C420.5,313.2 422.5,313.2 424.2,313.2" fill="none" stroke="#fff" stroke-width="2.6" stroke-linecap="round" stroke-linejoin="round"/>
<path d="M398,313.6 C405,313.4 412,313.6 418,313.4 C420.5,313.2 422.5,313.2 424.2,313.2" fill="none" stroke="#000" stroke-width="1.2" stroke-linecap="round" stroke-linejoin="round"/>
<ellipse cx="424.5" cy="313.2" rx="4.2" ry="4.0" fill="#000"/>
<ellipse cx="424.3" cy="313.1" rx="2.2" ry="1.8" fill="#fff"/>
<ellipse cx="424.2" cy="313.1" rx="1.0" ry="0.9" fill="#000"/>
<path d="M375,313.8 L377,312.6 L379,314.6 L381,312.6 L383,314.6 L385,312.8 M388.5,312.4 L390,315 M391.5,313 L393.5,314.2" stroke="#fff" stroke-width="0.8" fill="none"/>
<path d="M403.4,268.2 L405.2,265.2 L407.4,263.2 L408.6,260.8 L411.4,259.6 L413.4,257.6 L416.4,257.2 L419.4,256.2" fill="none" stroke="#000" stroke-width="2.6" stroke-linecap="round" stroke-linejoin="round"/>
<path d="M405.4,265.6 L406.6,264.4 M409.4,260.6 L410.8,260 M413.8,257.8 L415.2,257.4" stroke="#fff" stroke-width="0.9" stroke-linecap="round"/>
<path d="M401.8,268 L405.8,265.2 L408.6,268.6 L406.2,272 Z" fill="#000"/>
<circle cx="405.6" cy="268.4" r="1" fill="#fff"/>
<rect x="419" y="255.4" width="5.4" height="6.6" fill="#000"/>
<rect x="420.3" y="257.2" width="2.6" height="3.4" fill="#666"/>
<circle cx="422.8" cy="253.1" r="2.7" fill="#fff" stroke="#000" stroke-width="1.3"/>
<circle cx="422.2" cy="253.4" r="0.9" fill="#000"/>
</g>
</svg>
</body></html>
